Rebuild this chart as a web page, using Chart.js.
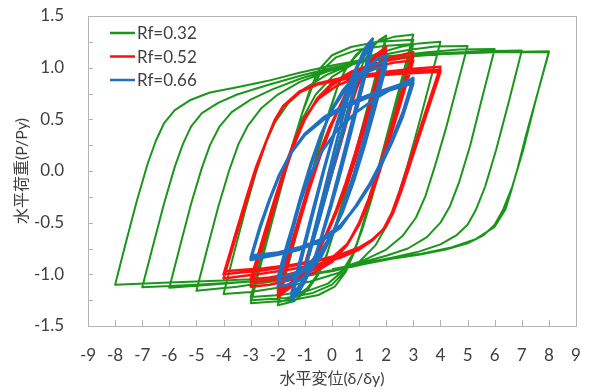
<!DOCTYPE html>
<html>
<head>
<meta charset="utf-8">
<script src="https://cdn.jsdelivr.net/npm/chart.js@4.4.1/dist/chart.umd.min.js"></script>
<style>
  html, body { margin: 0; padding: 0; background: #fff; }
</style>
</head>
<body>
<canvas id="hystChart" width="590" height="390"></canvas>
<script>
// series labels + tick values
const seriesLabels = ['Rf=0.32', 'Rf=0.52', 'Rf=0.66'];
const xTicks = [-9, -8, -7, -6, -5, -4, -3, -2, -1, 0, 1, 2, 3, 4, 5, 6, 7, 8, 9];
const yTicks = [-1.5, -1.0, -0.5, 0.0, 0.5, 1.0, 1.5];
const yMinorTicks = [-1.25, -1.0, -0.75, -0.5, -0.25, 0, 0.25, 0.5, 0.75, 1.0, 1.25];

// load paths [δ/δy, P/Py]
const rf032Path = [
  [0,0],[0.5,0.5],[0.8,0.79],[1,0.98],
  [0.6,0.58],[0.2,0.18],[-0.2,-0.22],[-0.6,-0.6],[-1,-0.97],
  [-0.6,-0.57],[-0.2,-0.17],[0.2,0.23],[0.55,0.57],[0.85,0.84],[1.15,1.05],[1.5,1.2],[1.75,1.27],[2,1.31],
  [1.6,0.91],[1.2,0.51],[0.8,0.11],[0.45,-0.24],[0.1,-0.56],[-0.2,-0.82],[-0.5,-1.0],[-0.9,-1.15],[-1.4,-1.26],[-2,-1.3],
  [-1.6,-0.9],[-1.2,-0.5],[-0.8,-0.1],[-0.45,0.25],[-0.1,0.56],[0.2,0.81],[0.5,0.99],[0.9,1.13],[1.4,1.23],[2,1.28],
  [1.6,0.88],[1.2,0.48],[0.8,0.08],[0.45,-0.26],[0.1,-0.57],[-0.2,-0.81],[-0.5,-0.99],[-0.9,-1.13],[-1.4,-1.23],[-2,-1.27],
  [-1.6,-0.87],[-1.2,-0.47],[-0.8,-0.07],[-0.45,0.27],[-0.1,0.58],[0.25,0.85],[0.6,1.03],[1.1,1.17],[1.7,1.25],[2.3,1.3],[3,1.32],
  [2.6,0.92],[2.2,0.52],[1.8,0.12],[1.45,-0.23],[1.1,-0.55],[0.8,-0.8],[0.5,-0.98],[0.1,-1.12],[-0.5,-1.2],[-1.5,-1.25],[-3,-1.28],
  [-2.6,-0.88],[-2.2,-0.48],[-1.8,-0.09],[-1.45,0.25],[-1.1,0.56],[-0.8,0.8],[-0.45,0.99],[0,1.12],[0.7,1.2],[1.7,1.25],[3,1.27],
  [2.6,0.87],[2.2,0.47],[1.8,0.08],[1.45,-0.26],[1.1,-0.57],[0.8,-0.8],[0.45,-0.98],[0,-1.1],[-0.7,-1.18],[-1.7,-1.23],[-3,-1.25],
  [-2.6,-0.85],[-2.2,-0.45],[-1.8,-0.07],[-1.45,0.26],[-1.1,0.56],[-0.75,0.8],[-0.35,0.98],[0.15,1.1],[0.9,1.17],[1.9,1.21],[3,1.23],
  [2.6,0.83],[2.2,0.43],[1.8,0.05],[1.45,-0.28],[1.1,-0.58],[0.75,-0.81],[0.35,-0.98],[-0.15,-1.09],[-0.9,-1.16],[-1.9,-1.2],[-3,-1.22],
  [-2.6,-0.82],[-2.2,-0.42],[-1.8,-0.05],[-1.45,0.25],[-1.1,0.5],[-0.6,0.74],[0,0.91],[0.8,1.04],[1.7,1.14],[2.5,1.2],[3.2,1.235],[4,1.25],
  [3.6,0.85],[3.2,0.45],[2.8,0.07],[2.45,-0.24],[2.1,-0.49],[1.6,-0.72],[1,-0.88],[0.2,-0.99],[-0.8,-1.07],[-2,-1.13],[-3,-1.17],[-4,-1.19],
  [-3.6,-0.78],[-3.2,-0.38],[-2.8,-0.01],[-2.45,0.27],[-2.1,0.47],[-1.6,0.66],[-1,0.8],[-0.2,0.93],[0.8,1.04],[1.8,1.12],[2.8,1.17],[3.8,1.205],[5,1.21],
  [4.6,0.81],[4.2,0.41],[3.8,0.05],[3.45,-0.24],[3.1,-0.45],[2.6,-0.63],[2,-0.76],[1.2,-0.86],[0.2,-0.95],[-1,-1.02],[-2.2,-1.07],[-3.5,-1.12],[-5,-1.16],
  [-4.6,-0.75],[-4.2,-0.35],[-3.8,0],[-3.45,0.26],[-3.1,0.44],[-2.6,0.61],[-2,0.74],[-1.2,0.86],[-0.2,0.96],[1,1.05],[2.2,1.11],[3.5,1.15],[4.7,1.175],[6,1.18],
  [5.55,0.72],[5.1,0.25],[4.7,-0.1],[4.35,-0.34],[4,-0.5],[3.5,-0.64],[2.8,-0.75],[2,-0.82],[1,-0.89],[0,-0.96],[-1.5,-1.03],[-3,-1.07],[-4.5,-1.1],[-6,-1.13],
  [-5.6,-0.72],[-5.2,-0.32],[-4.8,0.03],[-4.5,0.25],[-4.15,0.43],[-3.7,0.57],[-3,0.69],[-2.2,0.79],[-1.2,0.89],[0,0.99],[1.2,1.06],[2.5,1.11],[4,1.14],[5.5,1.16],[7,1.165],
  [6.55,0.7],[6.05,0.2],[5.65,-0.15],[5.3,-0.38],[5,-0.52],[4.6,-0.62],[4,-0.71],[3.2,-0.78],[2.2,-0.84],[1.2,-0.9],[0,-0.97],[-1.5,-1.03],[-3,-1.07],[-5,-1.1],[-7,-1.126],
  [-6.6,-0.72],[-6.2,-0.32],[-5.8,0.04],[-5.5,0.26],[-5.2,0.43],[-4.8,0.56],[-4.2,0.66],[-3.5,0.74],[-2.4,0.83],[-1.2,0.92],[0,1.0],[1.2,1.06],[2.5,1.1],[4,1.13],[6,1.15],[8,1.158],
  [7.5,0.67],[7.05,0.2],[6.65,-0.15],[6.3,-0.38],[6,-0.52],[5.6,-0.62],[5,-0.7],[4.2,-0.76],[3.2,-0.81],[2.2,-0.85],[1.2,-0.9],[0,-0.97],[-1.2,-1.01],[-2.4,-1.04],[-4,-1.06],[-6,-1.08],[-8,-1.1],
  [-7.6,-0.69],[-7.2,-0.29],[-6.8,0.07],[-6.5,0.29],[-6.2,0.46],[-5.8,0.59],[-5.2,0.69],[-4.5,0.76],[-3.5,0.81],[-2.4,0.87],[-1.2,0.95],[0,1.02],[1,1.07],[2,1.11],[3,1.13],[4,1.14],[6,1.148],[8,1.15],
  [7.55,0.72],[7.15,0.34],[6.85,0.03],[6.6,-0.2],[6.4,-0.37],[6,-0.54],[5.3,-0.66],[4.4,-0.74],[3.3,-0.8],[2.2,-0.84],[1,-0.9],[0,-0.95]
];

const rf052Path = [
  [0,0],[0.5,0.45],[1,0.9],
  [0.6,0.52],[0.2,0.15],[-0.2,-0.2],[-0.6,-0.55],[-1,-0.9],
  [-0.6,-0.54],[-0.2,-0.18],[0.2,0.18],[0.55,0.5],[0.9,0.79],[1.2,0.98],[1.6,1.12],[2,1.2],
  [1.6,0.84],[1.2,0.48],[0.85,0.17],[0.5,-0.12],[0.15,-0.38],[-0.2,-0.6],[-0.6,-0.82],[-1,-0.98],[-1.5,-1.12],[-2,-1.22],
  [-1.6,-0.86],[-1.2,-0.5],[-0.85,-0.19],[-0.5,0.09],[-0.15,0.35],[0.2,0.58],[0.6,0.8],[1,0.95],[1.5,1.08],[2,1.16],
  [1.6,0.8],[1.2,0.44],[0.85,0.13],[0.5,-0.15],[0.15,-0.4],[-0.2,-0.62],[-0.6,-0.83],[-1,-0.98],[-1.5,-1.1],[-2,-1.19],
  [-1.6,-0.83],[-1.2,-0.47],[-0.85,-0.16],[-0.5,0.11],[-0.15,0.36],[0.2,0.57],[0.6,0.78],[1,0.93],[1.5,1.05],[2,1.13],
  [1.6,0.77],[1.2,0.41],[0.85,0.1],[0.5,-0.17],[0.15,-0.41],[-0.2,-0.62],[-0.6,-0.82],[-1,-0.96],[-1.5,-1.08],[-2,-1.16],
  [-1.6,-0.8],[-1.2,-0.44],[-0.85,-0.13],[-0.5,0.15],[-0.1,0.42],[0.4,0.68],[0.9,0.86],[1.5,1],[2.2,1.1],[3,1.15],
  [2.55,0.75],[2.1,0.35],[1.7,0.01],[1.35,-0.27],[1,-0.5],[0.55,-0.72],[0,-0.88],[-0.7,-0.99],[-1.6,-1.06],[-2.3,-1.1],[-3,-1.12],
  [-2.55,-0.72],[-2.1,-0.32],[-1.7,0.02],[-1.35,0.28],[-1,0.5],[-0.55,0.7],[0,0.85],[0.7,0.96],[1.6,1.04],[2.3,1.08],[3,1.11],
  [2.55,0.71],[2.1,0.31],[1.7,-0.03],[1.35,-0.3],[1,-0.52],[0.55,-0.72],[0,-0.86],[-0.7,-0.96],[-1.6,-1.03],[-2.3,-1.06],[-3,-1.08],
  [-2.55,-0.68],[-2.1,-0.29],[-1.7,0.04],[-1.35,0.29],[-1,0.5],[-0.55,0.69],[0,0.83],[0.7,0.94],[1.6,1.01],[2.3,1.05],[3,1.07],
  [2.55,0.67],[2.1,0.28],[1.7,-0.05],[1.35,-0.31],[1,-0.52],[0.55,-0.71],[0,-0.84],[-0.7,-0.94],[-1.6,-1],[-2.3,-1.03],[-3,-1.05],
  [-2.55,-0.65],[-2.1,-0.26],[-1.7,0.07],[-1.35,0.32],[-1,0.52],[-0.5,0.7],[0.2,0.83],[1,0.91],[2,0.96],[3,0.99],[4,1.01],
  [3.5,0.61],[3,0.21],[2.5,-0.19],[2.2,-0.41],[1.9,-0.56],[1.5,-0.67],[1,-0.76],[0.3,-0.84],[-0.5,-0.9],[-1.5,-0.95],[-2.5,-0.99],[-4,-1.04],
  [-3.55,-0.64],[-3.15,-0.29],[-2.8,0.01],[-2.41,0.3],[-2.1,0.5],[-1.8,0.63],[-1.2,0.77],[-0.5,0.85],[0.5,0.91],[1.5,0.94],[2.5,0.96],[4,0.98],
  [3.5,0.58],[3,0.18],[2.55,-0.18],[2.25,-0.4],[1.95,-0.55],[1.5,-0.67],[1,-0.75],[0.3,-0.82],[-0.5,-0.87],[-1.5,-0.92],[-2.5,-0.96],[-4,-1],
  [-3.55,-0.6],[-3.15,-0.25],[-2.8,0.04],[-2.41,0.3],[-2.1,0.49],[-1.8,0.62],[-1.2,0.76],[-0.5,0.84],[0.5,0.89],[1.5,0.92],[2.5,0.94],[4,0.96],
  [3.5,0.56],[3,0.16],[2.55,-0.2],[2.25,-0.41],[1.95,-0.55],[1.5,-0.66],[1,-0.74],[0.3,-0.81],[-0.5,-0.86],[-1.5,-0.91],[-2.5,-0.94],[-4,-0.97]
];

const rf066Path = [
  [0,0],[0.5,0.49],[1,0.95],[0.5,0.46],[0,-0.02],[-0.5,-0.5],[-1,-0.95],
  [-0.6,-0.52],[-0.2,-0.1],[0.2,0.32],[0.55,0.67],[0.85,0.94],[1.1,1.12],[1.3,1.22],[1.5,1.28],
  [1.1,0.86],[0.7,0.44],[0.3,0.03],[-0.05,-0.32],[-0.4,-0.64],[-0.7,-0.89],[-1,-1.07],[-1.25,-1.18],[-1.5,-1.25],
  [-1.1,-0.83],[-0.7,-0.41],[-0.3,0],[0.05,0.34],[0.4,0.65],[0.7,0.89],[1,1.06],[1.25,1.17],[1.5,1.24],
  [1.1,0.82],[0.7,0.4],[0.3,-0.01],[-0.05,-0.35],[-0.4,-0.66],[-0.7,-0.88],[-1,-1.05],[-1.25,-1.15],[-1.5,-1.22],
  [-1.1,-0.8],[-0.7,-0.38],[-0.3,0.02],[0.05,0.35],[0.4,0.65],[0.7,0.88],[1,1.04],[1.25,1.14],[1.5,1.21],
  [1.1,0.79],[0.7,0.37],[0.3,-0.03],[-0.05,-0.36],[-0.4,-0.66],[-0.7,-0.88],[-1,-1.03],[-1.25,-1.13],[-1.5,-1.19],
  [-1.1,-0.78],[-0.7,-0.37],[-0.3,0.02],[0.1,0.37],[0.5,0.66],[0.9,0.87],[1.3,1],[1.65,1.08],[2,1.12],
  [1.6,0.72],[1.2,0.33],[0.8,-0.03],[0.4,-0.35],[0,-0.62],[-0.4,-0.83],[-0.8,-0.97],[-1.2,-1.06],[-1.6,-1.1],[-2,-1.12],
  [-1.6,-0.72],[-1.2,-0.33],[-0.8,0.03],[-0.4,0.35],[0,0.6],[0.4,0.78],[0.8,0.9],[1.2,0.98],[1.6,1.03],[2,1.06],
  [1.6,0.66],[1.2,0.28],[0.8,-0.07],[0.4,-0.37],[0,-0.61],[-0.4,-0.79],[-0.8,-0.92],[-1.2,-1],[-1.6,-1.05],[-2,-1.07],
  [-1.6,-0.67],[-1.2,-0.29],[-0.8,0.06],[-0.4,0.36],[0,0.59],[0.4,0.75],[0.8,0.87],[1.2,0.95],[1.6,0.99],[2,1.02],
  [1.6,0.62],[1.2,0.24],[0.8,-0.1],[0.4,-0.39],[0,-0.61],[-0.4,-0.77],[-0.8,-0.89],[-1.2,-0.97],[-1.6,-1.01],[-2,-1.03],
  [-1.65,-0.7],[-1.3,-0.4],[-0.9,-0.1],[-0.4,0.18],[0.2,0.4],[0.9,0.57],[1.6,0.7],[2.3,0.81],[3,0.9],
  [2.6,0.56],[2.2,0.3],[1.8,0.08],[1.4,-0.12],[0.9,-0.33],[0.3,-0.55],[-0.4,-0.68],[-1.2,-0.76],[-2,-0.81],[-3,-0.86],
  [-2.65,-0.55],[-2.3,-0.28],[-1.95,-0.05],[-1.55,0.16],[-1,0.36],[-0.3,0.52],[0.5,0.64],[1.3,0.73],[2.1,0.8],[3,0.88],
  [2.6,0.54],[2.2,0.28],[1.8,0.06],[1.4,-0.14],[0.9,-0.34],[0.3,-0.54],[-0.4,-0.67],[-1.2,-0.75],[-2,-0.8],[-3,-0.84],
  [-2.65,-0.53],[-2.3,-0.27],[-1.95,-0.04],[-1.55,0.16],[-1,0.35],[-0.3,0.5],[0.5,0.62],[1.3,0.71],[2.1,0.78],[3,0.85],
  [2.6,0.52],[2.2,0.27],[1.8,0.05],[1.4,-0.14],[0.9,-0.34],[0.3,-0.53],[-0.4,-0.66],[-1.2,-0.74],[-2,-0.79],[-3,-0.82]
];

const FONT = "Lato, 'Noto Sans CJK JP', sans-serif";
const TEXT = '#404040';
const FRAME = '#b4b4b4';

const toXY = path => path.map(([x, y]) => ({ x, y }));

// frame, inner tick marks and the legend inside the plot
const decor = {
  id: 'decor',
  beforeDatasetsDraw(chart) {
    const { ctx, chartArea: a, scales: { x, y } } = chart;
    ctx.save();
    ctx.strokeStyle = FRAME;
    ctx.lineWidth = 1;
    ctx.strokeRect(a.left + 0.5, a.top + 0.5, a.right - a.left, a.bottom - a.top);
    ctx.beginPath();
    xTicks.forEach(v => {
      const px = Math.round(x.getPixelForValue(v)) + 0.5;
      ctx.moveTo(px, a.bottom);
      ctx.lineTo(px, a.bottom - 6);
    });
    yMinorTicks.forEach(v => {
      const py = Math.round(y.getPixelForValue(v)) + 0.5;
      ctx.moveTo(a.left, py);
      ctx.lineTo(a.left + 5, py);
    });
    ctx.stroke();
    ctx.restore();
  },
  afterDraw(chart) {
    const { ctx } = chart;
    ctx.save();
    ctx.font = "17px " + FONT;
    ctx.textBaseline = 'middle';
    chart.data.datasets.forEach((ds, i) => {
      const ly = 33 + i * 23.5;
      ctx.strokeStyle = ds.borderColor;
      ctx.lineWidth = 2.5;
      ctx.beginPath();
      ctx.moveTo(110, ly);
      ctx.lineTo(135, ly);
      ctx.stroke();
      ctx.fillStyle = TEXT;
      ctx.fillText(ds.label, 137, ly + 1);
    });
    ctx.restore();
  }
};

const line = (label, path, color, width, order) => ({
  label,
  data: toXY(path),
  borderColor: color,
  backgroundColor: color,
  borderWidth: width,
  showLine: true,
  pointRadius: 0,
  tension: 0,
  fill: false,
  borderJoinStyle: 'round',
  order
});

new Chart(document.getElementById('hystChart'), {
  type: 'scatter',
  data: {
    datasets: [
      line(seriesLabels[0], rf032Path, '#1b961b', 2, 3),
      line(seriesLabels[1], rf052Path, '#ff1010', 2.5, 2),
      line(seriesLabels[2], rf066Path, '#1f70c1', 2.8, 1)
    ]
  },
  options: {
    responsive: false,
    animation: false,
    devicePixelRatio: 1,
    layout: { padding: { left: 0, right: 14, top: 16, bottom: 0 } },
    plugins: { legend: { display: false }, tooltip: { enabled: false } },
    scales: {
      x: {
        type: 'linear',
        min: -9, max: 9,
        // invisible tick length pushes the labels down
        grid: { display: false, drawTicks: true, tickLength: 18 },
        border: { display: false },
        afterBuildTicks: s => { s.ticks = xTicks.map(v => ({ value: v })); },
        afterFit: s => { s.height = 64; },
        ticks: {
          autoSkip: false, maxRotation: 0, padding: 1, color: TEXT,
          font: { family: FONT, size: 17 },
          callback: v => String(v)
        },
        title: {
          display: true, text: '水平変位(δ/δy)', color: TEXT,
          font: { family: FONT, size: 16 },
          padding: { top: 0, bottom: 2 }
        }
      },
      y: {
        type: 'linear',
        min: -1.5, max: 1.5,
        grid: { display: false, drawTicks: true, tickLength: 23 },
        border: { display: false },
        afterBuildTicks: s => { s.ticks = yTicks.map(v => ({ value: v })); },
        afterFit: s => { s.width = 88; },
        ticks: {
          autoSkip: false, padding: 1, color: TEXT,
          font: { family: FONT, size: 17 },
          callback: v => v.toFixed(1)
        },
        title: {
          display: true, text: '水平荷重(P/Py)', color: TEXT,
          font: { family: FONT, size: 16 },
          padding: { top: 12, bottom: 0 }
        }
      }
    }
  },
  plugins: [decor]
});
</script>
</body>
</html>
